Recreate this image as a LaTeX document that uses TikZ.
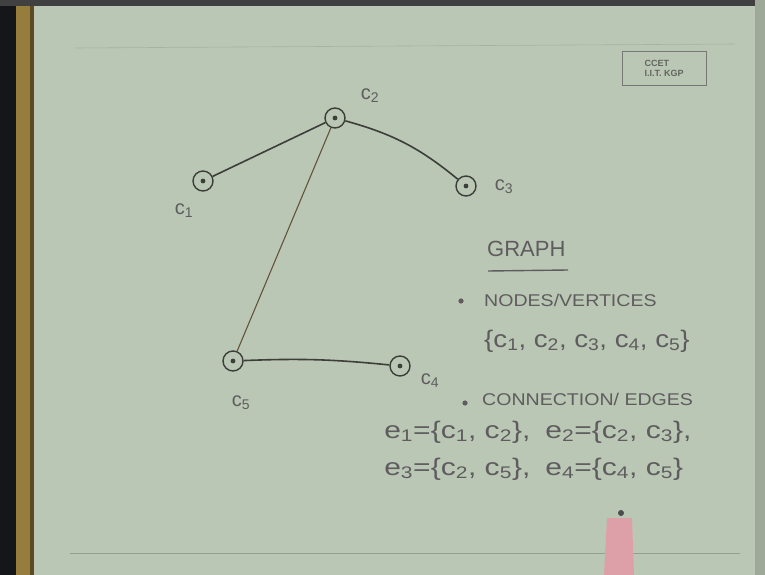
\documentclass[tikz,border=0pt]{standalone}
\usepackage{fontspec}
\setmainfont{Liberation Sans}
\definecolor{paper}{RGB}{186,199,180}
\definecolor{ink}{RGB}{60,62,58}
\definecolor{handink}{RGB}{95,92,95}
\definecolor{rimyellow}{RGB}{150,125,60}
\definecolor{rimdark}{RGB}{20,22,26}
\definecolor{penpink}{RGB}{222,160,168}
\newcommand{\sub}[1]{\textsubscript{#1}}
\begin{document}
\begin{tikzpicture}[x=1pt,y=-1pt,
  vtx/.style={circle,draw=ink,line width=1.4pt,minimum size=20pt,inner sep=0pt,
    path picture={\fill[ink] (path picture bounding box.center) circle (2.4pt);}},
  lbl/.style={text=handink,font=\fontsize{20}{21}\selectfont,inner sep=0pt},
  hand/.style={text=handink,inner sep=0pt,anchor=west},
  edge/.style={draw=ink,line width=1.6pt},
  thinedge/.style={draw=ink!70!brown,line width=1.1pt}]
\useasboundingbox (0,0) rectangle (765,575);
% photo background
\fill[paper] (0,0) rectangle (765,575);
\fill[rimdark] (0,0) rectangle (16,575);
\fill[rimyellow] (16,0) rectangle (33,575);
\fill[rimyellow!60!black] (30,0) rectangle (34,575);
\fill[black!75] (0,0) rectangle (765,6);
\fill[paper!85!black] (755,0) rectangle (765,575);
\draw[paper!80!black,line width=0.8pt] (70,553) -- (740,553);
\draw[paper!90!black,line width=0.6pt] (75,48) -- (735,44);
% stamp
\node[draw=ink!70,line width=0.8pt,minimum width=84pt,minimum height=34pt,inner sep=0pt,align=left,
  text=ink!80,font=\fontsize{9}{10}\selectfont\bfseries] (stamp) at (664,68) {CCET\\I.I.T. KGP};
% vertices
\node[vtx] (c1) at (203,181) {};
\node[vtx] (c2) at (335,118) {};
\node[vtx] (c3) at (466,186) {};
\node[vtx] (c5) at (233,361) {};
\node[vtx] (c4) at (400,366) {};
\node[lbl] (l1) at (184,211) {c\sub{1}};
\node[lbl] (l2) at (370,96) {c\sub{2}};
\node[lbl] (l3) at (504,187) {c\sub{3}};
\node[lbl] (l5) at (241,403) {c\sub{5}};
\node[lbl] (l4) at (430,381) {c\sub{4}};
% edges
\draw[edge] (c1) -- (c2);
\draw[edge] (c2) to[bend left=12] (c3);
\draw[thinedge] (c2) -- (c5);
\draw[edge] (c5) to[bend left=4] (c4);
% text
\node[hand,font=\fontsize{22}{23}\selectfont] (graph) at (487,249) {GRAPH};
\draw[handink,line width=1.4pt] (488,271) -- (568,270);
\fill[handink] (461,301) circle (2.6pt);
\node[hand,font=\fontsize{17}{18}\selectfont,xscale=1.15] (nodes) at (484,300) {NODES/VERTICES};
\node[hand,font=\fontsize{24}{25}\selectfont,xscale=1.15] (vset) at (484,341) {\{c\sub{1}, c\sub{2}, c\sub{3}, c\sub{4}, c\sub{5}\}};
\fill[handink] (465,403) circle (2.6pt);
\node[hand,font=\fontsize{17}{18}\selectfont,xscale=1.15] (conn) at (482,399) {CONNECTION/ EDGES};
\node[hand,font=\fontsize{24}{25}\selectfont,xscale=1.25] (e12) at (384,432) {e\sub{1}=\{c\sub{1}, c\sub{2}\},\enspace e\sub{2}=\{c\sub{2}, c\sub{3}\},};
\node[hand,font=\fontsize{24}{25}\selectfont,xscale=1.25] (e34) at (384,469) {e\sub{3}=\{c\sub{2}, c\sub{5}\},\enspace e\sub{4}=\{c\sub{4}, c\sub{5}\}};
% pen
\fill[penpink] (607,518) -- (632,518) -- (634,575) -- (604,575) -- cycle;
\fill[black!70] (621,513) circle (3pt);
\end{tikzpicture}
\end{document}
